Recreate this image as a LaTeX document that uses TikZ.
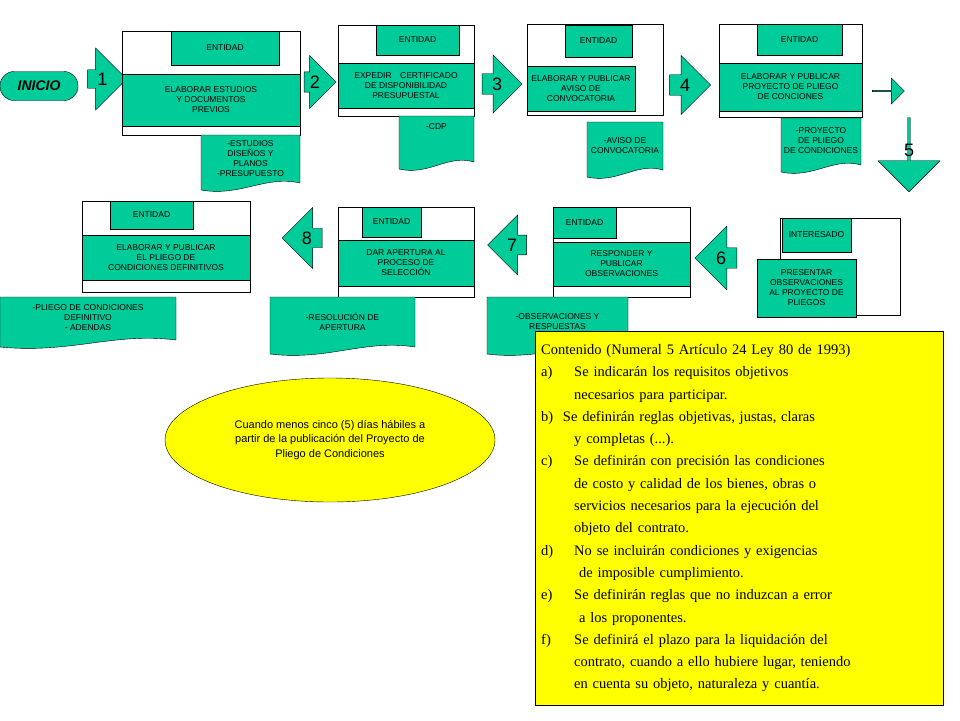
\documentclass[tikz,border=0pt]{standalone}
\usepackage{fontspec}
\setsansfont{Liberation Sans}
\setmainfont{Liberation Serif}
\usetikzlibrary{shapes.arrows, shapes.geometric}
\definecolor{verde}{RGB}{0,204,153}
\definecolor{amarillo}{RGB}{255,255,0}
\newcommand{\documento}[6]{%
  \path[doc] (#1,#2) -- (#3,#2) -- (#3,#4-5)
    .. controls ({#3-(#3-#1)*0.35},{#4-13}) and ({#1+(#3-#1)*0.4},{#4+9}) .. (#1,#4+2) -- cycle;
  \node[doctext] (#5) at ({(#1+#3)/2},{(#2+#4)/2-3}) {#6};}
\newcommand{\lit}[1]{\makebox[33pt][l]{#1}}
\begin{document}
\begin{tikzpicture}[x=1pt, y=-1pt,
    marco/.style={draw=black, line width=0.8pt},
    caja/.style={draw, fill=verde, align=center, inner sep=1pt, font=\sffamily\fontsize{8.5}{10}\selectfont},
    doc/.style={draw, fill=verde},
    doctext/.style={align=center, inner sep=0pt, font=\sffamily\fontsize{8.5}{10}\selectfont},
    flecha/.style={single arrow, draw, fill=verde, inner sep=0pt, font=\sffamily\fontsize{18}{18}\selectfont}]
  \useasboundingbox (0,0) rectangle (960,720);

  % fila superior
  \node[caja, rounded corners=14pt, minimum width=78, minimum height=29, font=\sffamily\bfseries\itshape\fontsize{14}{14}\selectfont] (inicio) at (39,86) {INICIO};
  \node[flecha, minimum height=39, minimum width=62, single arrow head extend=15] (f1) at (102.5,79) {1};

  \draw[marco] (122,31) rectangle (300,135);
  \node[caja, minimum width=108, minimum height=34] (ent1) at (225,48) {ENTIDAD};
  \node[caja, minimum width=178, minimum height=52] (est1) at (211,100) {ELABORAR ESTUDIOS\\Y DOCUMENTOS\\PREVIOS};
  \documento{201}{135}{300}{188}{doc1}{-ESTUDIOS\\DISEÑOS Y\\PLANOS\\-PRESUPUESTO}

  \node[flecha, minimum height=32, minimum width=53, single arrow head extend=10.5] (f2) at (315,82) {2};

  \draw[marco] (338,25) rectangle (474,116);
  \node[caja, minimum width=83, minimum height=30] (ent2) at (417.5,40) {ENTIDAD};
  \node[caja, minimum width=136, minimum height=45] (est2) at (406,85.5) {EXPEDIR\quad CERTIFICADO\\DE DISPONIBILIDAD\\PRESUPUESTAL};
  \documento{399}{116}{474}{167}{doc2}{-CDP\\[14pt]}

  \node[flecha, minimum height=40, minimum width=58, single arrow head extend=12] (f3) at (497,84) {3};

  \draw[marco] (527,24) rectangle (663,115);
  \node[caja, minimum width=67, minimum height=32] (ent3) at (598.5,41) {ENTIDAD};
  \node[caja, minimum width=108, minimum height=45] (est3) at (581,88.5) {ELABORAR Y PUBLICAR\\AVISO DE\\CONVOCATORIA};
  \documento{587}{122}{663}{175}{doc3}{-AVISO DE\\CONVOCATORIA};

  \node[flecha, minimum height=41, minimum width=59, single arrow head extend=12] (f4) at (685,85) {4};

  \draw[marco] (719,24) rectangle (862,117);
  \node[caja, minimum width=85, minimum height=31] (ent4) at (799.5,39.5) {ENTIDAD};
  \node[caja, minimum width=143, minimum height=48] (est4) at (790.5,87) {ELABORAR Y PUBLICAR\\PROYECTO DE PLIEGO\\DE CONCIONES};
  \documento{781}{118}{861}{170}{doc4}{-PROYECTO\\DE PLIEGO\\DE CONDICIONES};

  \node[flecha, minimum height=32, minimum width=26, single arrow head extend=4] (f45) at (888,91) {};
  \node[flecha, shape border rotate=270, minimum height=74, minimum width=62, single arrow head extend=4] (f5) at (909,154) {};
  \node[font=\sffamily\fontsize{18}{18}\selectfont] (n5) at (909,150) {5};

  % fila inferior
  \draw[marco] (780,218) rectangle (900,315);
  \node[caja, minimum width=69, minimum height=34] (ent6) at (816.5,235) {INTERESADO};
  \node[caja, minimum width=99, minimum height=58] (est6) at (806.5,288) {PRESENTAR\\OBSERVACIONES\\AL PROYECTO DE\\PLIEGOS};

  \node[flecha, shape border rotate=180, minimum height=42, minimum width=64, single arrow head extend=14] (f6) at (721,258) {6};

  \draw[marco] (553,207) rectangle (690,297);
  \node[caja, minimum width=63, minimum height=31] (ent7) at (584.5,222.5) {ENTIDAD};
  \node[caja, minimum width=137, minimum height=44] (est7) at (621.5,264) {RESPONDER Y\\PUBLICAR\\OBSERVACIONES};
  \documento{487}{297}{628}{352}{doc7}{-OBSERVACIONES Y\\RESPUESTAS};

  \node[flecha, shape border rotate=180, minimum height=39, minimum width=60, single arrow head extend=13] (f7) at (512,245) {7};

  \draw[marco] (338,207) rectangle (474,297);
  \node[caja, minimum width=59, minimum height=30] (ent8) at (391.5,222) {ENTIDAD};
  \node[caja, minimum width=136, minimum height=46] (est8) at (406,263) {DAR APERTURA AL\\PROCESO DE\\SELECCIÓN};
  \documento{270}{297}{415}{352}{doc8}{-RESOLUCIÓN DE\\APERTURA};

  \node[flecha, shape border rotate=180, minimum height=40, minimum width=61, single arrow head extend=14] (f8) at (307,238) {8};

  \draw[marco] (82,201) rectangle (250,292);
  \node[caja, minimum width=83, minimum height=28] (ent9) at (151.5,215) {ENTIDAD};
  \node[caja, minimum width=168, minimum height=45] (est9) at (166,257.5) {ELABORAR Y PUBLICAR\\EL PLIEGO DE\\CONDICIONES DEFINITIVOS};
  \documento{0}{297}{176}{345}{doc9}{-PLIEGO DE CONDICIONES\\DEFINITIVO\\- ADENDAS};

  % notas
  \node[ellipse, draw, fill=amarillo, minimum width=330, minimum height=124, align=center,
        font=\sffamily\fontsize{11}{14.5}\selectfont] (plazo) at (330,440)
        {Cuando menos cinco (5) días hábiles a\\partir de la publicación del Proyecto de\\Pliego de Condiciones};
  \node[draw, fill=amarillo, anchor=north west, minimum width=408, minimum height=374, text width=396,
        align=left, inner sep=6pt, font=\rmfamily\fontsize{14.5}{22.3}\selectfont] (contenido) at (535,331)
        {Contenido (Numeral 5 Artículo 24 Ley 80 de 1993)\\
         \lit{a)}Se indicarán los requisitos objetivos\\
         \lit{}necesarios para participar.\\
         b)\ \ Se definirán reglas objetivas, justas, claras\\
         \lit{}y completas (...).\\
         \lit{c)}Se definirán con precisión las condiciones\\
         \lit{}de costo y calidad de los bienes, obras o\\
         \lit{}servicios necesarios para la ejecución del\\
         \lit{}objeto del contrato.\\
         \lit{d)}No se incluirán condiciones y exigencias\\
         \lit{}\ de imposible cumplimiento.\\
         \lit{e)}Se definirán reglas que no induzcan a error\\
         \lit{}\ a los proponentes.\\
         \lit{f)}Se definirá el plazo para la liquidación del\\
         \lit{}contrato, cuando a ello hubiere lugar, teniendo\\
         \lit{}en cuenta su objeto, naturaleza y cuantía.};
\end{tikzpicture}
\end{document}
